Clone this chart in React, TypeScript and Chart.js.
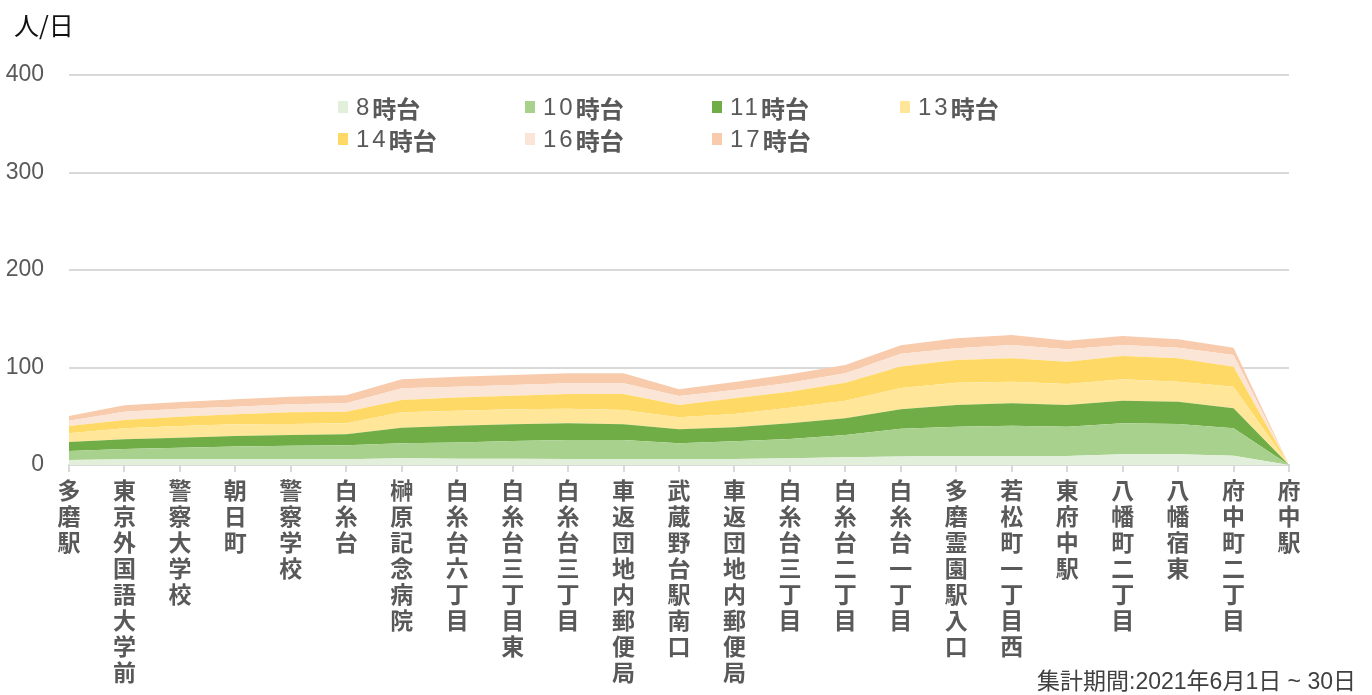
import React, { useEffect, useRef } from "react";
import { Chart, registerables } from "chart.js";

Chart.register(...registerables);

const stops: string[] = [
  "多磨駅", "東京外国語大学前", "警察大学校", "朝日町", "警察学校", "白糸台",
  "榊原記念病院", "白糸台六丁目", "白糸台三丁目東", "白糸台三丁目", "車返団地内郵便局",
  "武蔵野台駅南口", "車返団地内郵便局", "白糸台三丁目", "白糸台二丁目", "白糸台一丁目",
  "多磨霊園駅入口", "若松町一丁目西", "東府中駅", "八幡町二丁目", "八幡宿東",
  "府中町二丁目", "府中駅",
];

const h8 = [5.1, 5.8, 5.8, 5.8, 5.8, 5.8, 6.8, 6.5, 6.5, 6.2, 6.2, 6.2, 6.2, 6.8, 7.9, 8.8, 9.2, 9.2, 9.2, 11, 11, 9.6, 0];
const h10 = [9.3, 10.6, 12, 13.3, 14, 14.4, 15.4, 16.7, 18.1, 19.4, 19.4, 16, 18.1, 19.9, 22.9, 28.4, 30.1, 31.1, 30.1, 31.7, 31, 28, 0];
const h11 = [9.2, 9.9, 10.2, 10.6, 11, 11.3, 16.1, 17.1, 17.1, 17.1, 16.1, 14.4, 14.3, 16, 17.1, 20, 22.2, 23, 22.2, 23.3, 23, 20.5, 0];
const h13 = [8.9, 11.3, 12, 12, 11.2, 11.2, 15.7, 15.3, 15.4, 15.1, 14.7, 12.3, 13.7, 16.1, 18.1, 21.8, 22.9, 22.2, 21.6, 21.9, 20.5, 22.2, 0];
const h14 = [7.5, 8.6, 9.6, 10.3, 12, 12, 12.7, 13.7, 14, 15, 16.4, 12.6, 16.1, 16.4, 18.4, 22, 23.3, 23.9, 22.9, 23.9, 23.9, 20.5, 0];
const h16 = [5.5, 8.5, 8.2, 7.8, 8.2, 8.6, 12, 10.9, 10.9, 11, 11, 9.3, 8.5, 9.2, 9.6, 13.2, 12, 13.6, 12.6, 11.2, 10.9, 12, 0];
const h17 = [4.8, 6.5, 6.8, 7.6, 7.8, 8.2, 9.2, 10.3, 10.3, 10.2, 10.2, 6.8, 8.2, 8.6, 8.6, 8.5, 10.3, 10.3, 8.9, 9.3, 8.6, 7.5, 0];

const seriesHours = ["8", "10", "11", "13", "14", "16", "17"];
const seriesData = [h8, h10, h11, h13, h14, h16, h17];
const seriesColors = ["#E2EFDA", "#A9D18E", "#70AD47", "#FFE699", "#FFD966", "#FBE5D6", "#F8CBAD"];

const yTicks = [0, 100, 200, 300, 400];
const unitLabel = "人/日";
const periodNote = "集計期間:2021年6月1日 ~ 30日";

const W = 1372;
const H = 695;

export default function App() {
  const ref = useRef<HTMLCanvasElement | null>(null);

  useEffect(() => {
    if (!ref.current) return;
    const chart = new Chart(ref.current, {
      type: "line",
      data: {
        labels: stops,
        datasets: seriesData.map((d, i) => ({
          label: seriesHours[i] + "時台",
          data: d,
          backgroundColor: seriesColors[i],
          borderColor: seriesColors[i],
          borderWidth: 0,
          pointRadius: 0,
          tension: 0,
          fill: i === 0 ? "origin" : "-1",
        })),
      },
      options: {
        responsive: false,
        animation: false,
        devicePixelRatio: 1,
        layout: { padding: { top: 75, right: 83, left: 0, bottom: 0 } },
        plugins: { legend: { display: false }, tooltip: { enabled: false } },
        scales: {
          x: {
            offset: false,
            grid: { drawOnChartArea: false, drawTicks: true, tickLength: 7, color: "#d9d9d9", lineWidth: 2 },
            border: { display: true, color: "#d9d9d9", width: 2 },
            ticks: {
              autoSkip: false,
              maxRotation: 0,
              minRotation: 0,
              padding: 5,
              color: "#595959",
              font: { family: "'Noto Sans CJK JP', sans-serif", size: 23, weight: "bold", lineHeight: 1.13 },
              callback: (_v: any, i: number) => stops[i].split(""),
            },
            afterFit: (s: any) => { s.height = H - 465; },
          },
          y: {
            stacked: true,
            min: 0,
            max: 400,
            afterBuildTicks: (s: any) => { s.ticks = yTicks.map((v) => ({ value: v })); },
            grid: { color: "#d9d9d9", lineWidth: 2, drawTicks: false },
            border: { display: false },
            ticks: {
              padding: 25,
              color: "#595959",
              font: { family: "'Liberation Sans', sans-serif", size: 23 },
            },
            afterFit: (s: any) => { s.width = 69; },
          },
        },
      },
    });
    return () => chart.destroy();
  }, []);

  const cols = [338, 525, 712, 900];
  const rows = [107, 139];

  return (
    <div style={{ position: "absolute", left: 0, top: 0, width: W, height: H, background: "#fff", overflow: "hidden" }}>
      <canvas ref={ref} width={W} height={H} style={{ position: "absolute", left: 0, top: 0, width: W, height: H }} />
      <div style={{ position: "absolute", left: 14, top: 6, fontFamily: "'Noto Sans CJK JP', sans-serif", fontSize: 25, color: "#111" }}>
        {unitLabel}
      </div>
      {seriesHours.map((h, i) => (
        <div
          key={h}
          style={{
            position: "absolute",
            left: cols[i % 4],
            top: rows[Math.floor(i / 4)] - 16,
            height: 32,
            display: "flex",
            alignItems: "center",
            fontFamily: "'Liberation Sans', 'Noto Sans CJK JP', sans-serif",
            fontSize: 24,
            color: "#595959",
            whiteSpace: "nowrap",
          }}
        >
          <span style={{ display: "inline-block", width: 10, height: 12, background: seriesColors[i], marginRight: 8 }} />
          <span style={{ letterSpacing: 3 }}>{h}</span>
          <span style={{ fontWeight: "bold", fontFamily: "'Noto Sans CJK JP', sans-serif" }}>時台</span>
        </div>
      ))}
      <div
        style={{
          position: "absolute",
          right: 16,
          top: 662,
          fontFamily: "'Liberation Sans', 'Noto Sans CJK JP', sans-serif",
          fontSize: 23,
          color: "#404040",
          whiteSpace: "nowrap",
        }}
      >
        {periodNote}
      </div>
    </div>
  );
}
